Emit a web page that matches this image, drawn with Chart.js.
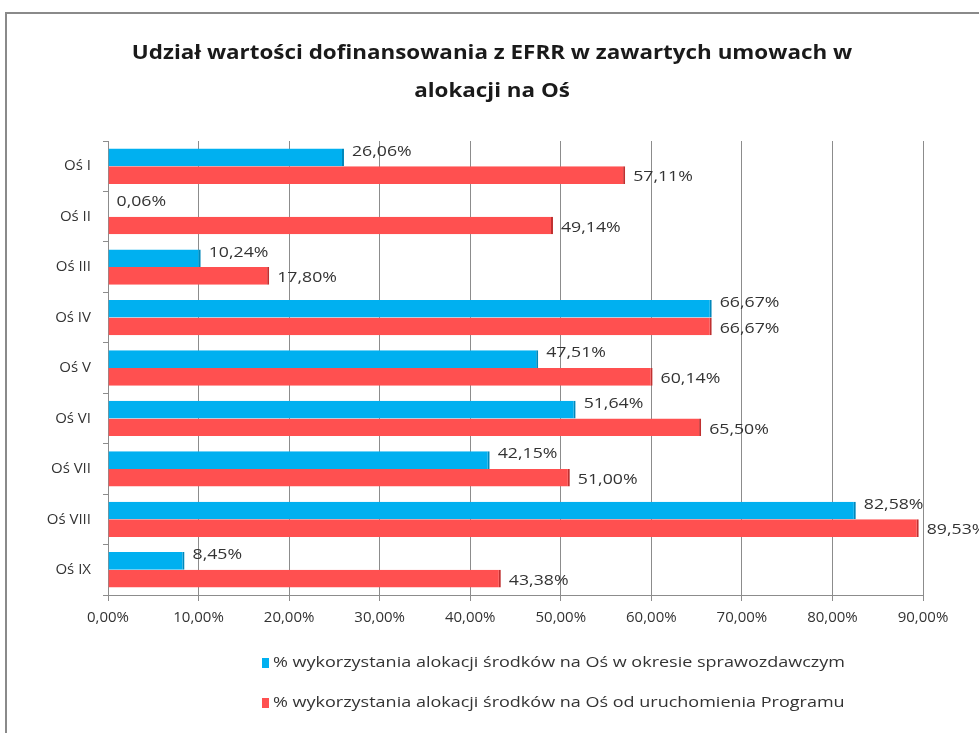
<!DOCTYPE html>
<html><head><meta charset="utf-8">
<script src="https://cdn.jsdelivr.net/npm/chart.js@4.4.1/dist/chart.umd.min.js"></script>
<style>
html,body{margin:0;padding:0;background:#fff;overflow:hidden}
#frame{position:absolute;left:5px;top:12px;width:1000px;height:1000px;border:2px solid #8a8a8a;box-sizing:border-box}
#wrap{position:absolute;left:0;top:0;width:979px;height:733px}
</style></head>
<body>
<div id="frame"></div>
<div id="wrap"><canvas id="c" width="979" height="733"></canvas></div>
<script>
const categories = ['Oś I','Oś II','Oś III','Oś IV','Oś V','Oś VI','Oś VII','Oś VIII','Oś IX'];
const seriesNames = ['% wykorzystania alokacji środków na Oś w okresie sprawozdawczym','% wykorzystania alokacji środków na Oś od uruchomienia Programu'];
const reportingPeriod = [26.06, 0.06, 10.24, 66.67, 47.51, 51.64, 42.15, 82.58, 8.45];
const sinceStart = [57.11, 49.14, 17.80, 66.67, 60.14, 65.50, 51.00, 89.53, 43.38];
const titleLines = ['Udział wartości dofinansowania z EFRR w zawartych umowach w','alokacji na Oś'];
const xTicks = [0,10,20,30,40,50,60,70,80,90];

const FONT = "'Open Sans', 'DejaVu Sans', sans-serif";
const fmt = v => v.toFixed(2).replace('.', ',') + '%';

// draw text stretched horizontally (reference text is wide)
function wideText(ctx, text, x, y, sx, align) {
  ctx.save();
  const w = ctx.measureText(text).width * sx;
  let left = x;
  if (align === 'center') left = x - w / 2;
  ctx.translate(left, y);
  ctx.scale(sx, 1);
  ctx.textAlign = 'left';
  ctx.fillText(text, 0, 0);
  ctx.restore();
}

const extras = {
  id: 'extras',
  afterDatasetsDraw(chart) {
    const ctx = chart.ctx;
    ctx.save();
    ctx.font = '15px ' + FONT;
    ctx.fillStyle = '#333';
    ctx.textBaseline = 'middle';
    chart.data.datasets.forEach((ds, di) => {
      const meta = chart.getDatasetMeta(di);
      meta.data.forEach((bar, i) => {
        const dy = di === 0 ? -6 : 2;
        wideText(ctx, fmt(ds.data[i]), bar.x + 8, bar.y + dy, 1.18, 'left');
      });
    });
    ctx.restore();
  },
  afterDraw(chart) {
    const ctx = chart.ctx;
    ctx.save();
    ctx.fillStyle = '#1a1a1a';
    ctx.font = 'bold 20px ' + FONT;
    ctx.textBaseline = 'middle';
    wideText(ctx, titleLines[0], 492, 53, 1.12, 'center');
    wideText(ctx, titleLines[1], 492, 91, 1.12, 'center');
    ctx.font = '15px ' + FONT;
    const colors = ['#00B0F0', '#FF5050'];
    const ys = [663, 703];
    seriesNames.forEach((n, i) => {
      ctx.fillStyle = colors[i];
      ctx.fillRect(262, ys[i] - 5, 7, 10);
      ctx.fillStyle = '#333';
      wideText(ctx, n, 273, ys[i], 1.2, 'left');
    });
    ctx.restore();
  }
};

new Chart(document.getElementById('c'), {
  type: 'bar',
  data: {
    labels: categories,
    datasets: [
      { label: seriesNames[0], data: reportingPeriod, backgroundColor: '#00B0F0', borderColor: '#0088BB', borderWidth: {top:0,bottom:0,left:0,right:2}, borderSkipped: false },
      { label: seriesNames[1], data: sinceStart, backgroundColor: '#FF5050', borderColor: '#C03030', borderWidth: {top:0,bottom:0,left:0,right:2}, borderSkipped: false }
    ]
  },
  options: {
    indexAxis: 'y',
    responsive: false,
    animation: false,
    devicePixelRatio: 1,
    layout: { padding: { top: 141, bottom: 98, left: 0, right: 56 } },
    plugins: { legend: { display: false }, title: { display: false }, tooltip: { enabled: false } },
    datasets: { bar: { categoryPercentage: 0.7, barPercentage: 1.0 } },
    scales: {
      x: {
        min: 0, max: 90,
        afterFit: s => { s.height = 40; },
        afterBuildTicks: s => { s.ticks = xTicks.map(v => ({ value: v })); },
        ticks: { callback: v => fmt(v), font: { family: FONT, size: 15 }, color: '#333', padding: 8 },
        grid: { color: '#8c8c8c', lineWidth: 1, tickLength: 6 },
        border: { color: '#8c8c8c' }
      },
      y: {
        afterFit: s => { s.width = 108; },
        ticks: { font: { family: FONT, size: 15 }, color: '#333', padding: 12 },
        grid: { drawOnChartArea: false, offset: true, color: '#8c8c8c', tickLength: 5 },
        border: { color: '#8c8c8c' }
      }
    }
  },
  plugins: [extras]
});
</script>
</body></html>
